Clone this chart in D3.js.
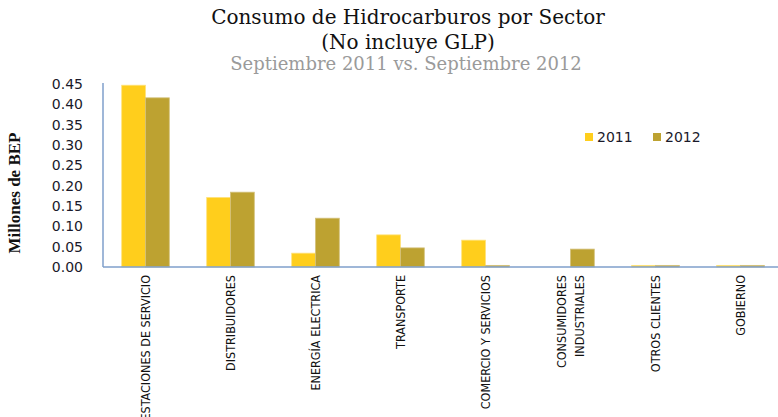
<!DOCTYPE html>
<html>
<head>
<meta charset="utf-8">
<script src="https://cdn.jsdelivr.net/npm/d3@7"></script>
<style>
  body { margin: 0; background: #fff; }
  svg { display: block; }
</style>
</head>
<body>
<div id="chart"></div>
<script>
// Consumo de hidrocarburos por sector, millones de BEP
const categories = [
  ['ESTACIONES DE SERVICIO'],
  ['DISTRIBUIDORES'],
  ['ENERGÍA ELECTRICA'],
  ['TRANSPORTE'],
  ['COMERCIO Y SERVICIOS'],
  ['CONSUMIDORES', 'INDUSTRIALES'],
  ['OTROS CLIENTES'],
  ['GOBIERNO']
];
const series = ['2011', '2012'];
const values2011 = [0.447, 0.171, 0.034, 0.079, 0.066, 0.0, 0.004, 0.004];
const values2012 = [0.416, 0.184, 0.120, 0.047, 0.004, 0.044, 0.004, 0.004];
const yTicks = [0, 0.05, 0.10, 0.15, 0.20, 0.25, 0.30, 0.35, 0.40, 0.45];

const width = 778, height = 417;
const margin = { left: 103, top: 84, bottom: 267, right: 783 };
const colors = { '2011': '#FFCE1C', '2012': '#BDA231' };
const axisColor = '#7F9FCB';

const svg = d3.select('#chart').append('svg')
  .attr('width', width)
  .attr('height', height);

// titles
const titleFont = '"DejaVu Serif", serif';
svg.append('text')
  .attr('x', 408).attr('y', 24)
  .attr('text-anchor', 'middle')
  .style('font-family', titleFont)
  .style('font-size', '20px')
  .attr('fill', '#111')
  .text('Consumo de Hidrocarburos  por Sector');
svg.append('text')
  .attr('x', 408).attr('y', 49)
  .attr('text-anchor', 'middle')
  .style('font-family', titleFont)
  .style('font-size', '20px')
  .attr('fill', '#111')
  .text('(No incluye GLP)');
svg.append('text')
  .attr('x', 406).attr('y', 70)
  .attr('text-anchor', 'middle')
  .style('font-family', titleFont)
  .style('font-size', '18px')
  .attr('fill', '#9a9a9a')
  .text('Septiembre 2011 vs. Septiembre 2012');

// scales
const x = d3.scaleBand()
  .domain(d3.range(categories.length))
  .range([margin.left, margin.right])
  .padding(0);

const y = d3.scaleLinear()
  .domain([0, 0.45])
  .range([margin.bottom, margin.top]);

const barW = x.bandwidth() * 0.28;
const groupW = barW * series.length;

// bars
const rows = [];
categories.forEach((c, i) => {
  rows.push({ i, s: '2011', v: values2011[i], k: 0 });
  rows.push({ i, s: '2012', v: values2012[i], k: 1 });
});

svg.append('g')
  .selectAll('rect')
  .data(rows.filter(d => d.v > 0))
  .join('rect')
  .attr('x', d => x(d.i) + x.bandwidth() / 2 - groupW / 2 + d.k * barW)
  .attr('y', d => y(d.v))
  .attr('width', barW)
  .attr('height', d => y(0) - y(d.v))
  .attr('fill', d => colors[d.s])
  .attr('stroke', d => d.s === '2011' ? '#FFE27A' : '#D3C07A')
  .attr('stroke-width', 0.8);

// y axis
const yAxis = svg.append('g')
  .attr('transform', `translate(${margin.left},0)`)
  .call(d3.axisLeft(y).tickValues(yTicks).tickFormat(d3.format('.2f')).tickSize(0).tickPadding(20));
yAxis.select('.domain')
  .attr('stroke', axisColor)
  .attr('stroke-width', 1.5)
  .attr('d', `M0,${margin.top - 1}V${margin.bottom}`);
yAxis.selectAll('text')
  .style('font-family', '"DejaVu Sans", Verdana, sans-serif')
  .style('font-size', '14px')
  .attr('fill', '#1a1a2a');

// x axis line
svg.append('line')
  .attr('x1', margin.left).attr('x2', width)
  .attr('y1', y(0)).attr('y2', y(0))
  .attr('stroke', axisColor)
  .attr('stroke-width', 1.5);

// category labels (rotated)
const labelFont = '"Liberation Sans Narrow", "Arial Narrow", "DejaVu Sans Condensed", sans-serif';
const lab = svg.append('g')
  .selectAll('text')
  .data(categories)
  .join('text')
  .attr('transform', (d, i) => `translate(${x(i) + x.bandwidth() / 2},275) rotate(-90)`)
  .attr('text-anchor', 'end')
  .style('font-family', labelFont)
  .style('font-size', '12.5px')
  .attr('fill', '#111');
lab.selectAll('tspan')
  .data(d => d.map((t, j) => ({ t, j, n: d.length })))
  .join('tspan')
  .attr('x', 0)
  .attr('y', d => (d.j - (d.n - 1) / 2) * 18 + 4.5)
  .text(d => d.t);

// y axis title
svg.append('text')
  .attr('transform', 'translate(20,193) rotate(-90)')
  .attr('text-anchor', 'middle')
  .style('font-family', '"Liberation Serif", "Times New Roman", serif')
  .style('font-weight', 'bold')
  .style('font-size', '17px')
  .attr('fill', '#111')
  .text('Millones  de BEP');

// legend
const legend = svg.append('g')
  .selectAll('g')
  .data(series)
  .join('g')
  .attr('transform', (d, i) => `translate(${585 + i * 68},133)`);
legend.append('rect')
  .attr('width', 8).attr('height', 8)
  .attr('fill', d => colors[d]);
legend.append('text')
  .attr('x', 12).attr('y', 9)
  .style('font-family', '"DejaVu Sans", Verdana, sans-serif')
  .style('font-size', '14px')
  .attr('fill', '#1a1a2a')
  .text(d => d);
</script>
</body>
</html>
